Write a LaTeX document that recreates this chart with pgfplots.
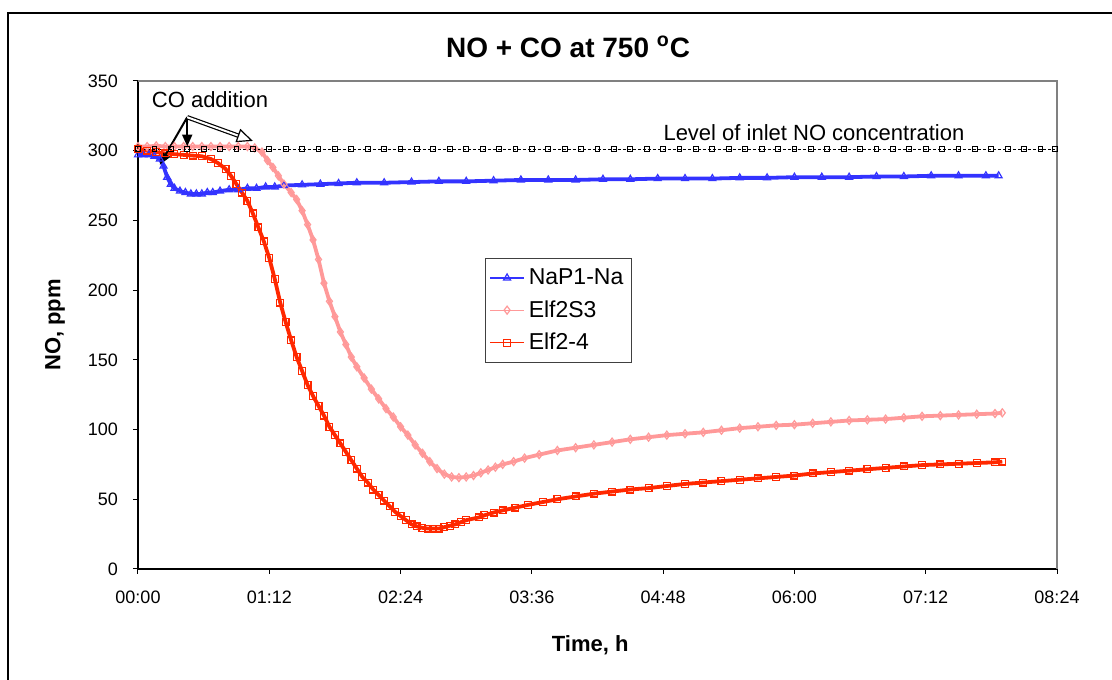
\documentclass[border=0pt]{standalone}
\usepackage{fontspec}
\setmainfont{Liberation Sans}
\usepackage{pgfplots}
\pgfplotsset{compat=1.18}
\usetikzlibrary{calc,arrows.meta}

\definecolor{naBlue}{RGB}{51,51,255}
\definecolor{elfPink}{RGB}{255,153,153}
\definecolor{elfRed}{RGB}{255,40,0}

\begin{document}
\begin{tikzpicture}
\begin{axis}[
  name=ax,
  scale only axis,
  width=459.5pt, height=244pt,
  xmin=0, xmax=504, ymin=0, ymax=350,
  xtick={0,72,...,504},
  xticklabels={00:00,01:12,02:24,03:36,04:48,06:00,07:12,08:24},
  ytick={0,50,...,350},
  axis x line*=bottom, axis y line*=left,
  axis line style={black, line width=0.7pt, -},
  tick align=outside, major tick length=2.5pt,
  tick style={black, line width=0.5pt},
  ticklabel style={font=\fontsize{9}{11}\selectfont},
  xticklabel style={yshift=-5pt},
  yticklabel style={xshift=-4pt},
  /pgf/number format/assume math mode=true,
  clip=false,
  legend image code/.code={
    \draw[mark repeat=2, mark phase=2, line width=0.6pt]
      plot coordinates {(0cm,0cm) (0.3cm,0cm) (0.6cm,0cm)};},
  legend cell align=left,
  legend style={at={(rel axis cs:0.3776,0.637)}, anchor=north west,
    draw=black!75, font=\fontsize{11.5}{13}\selectfont,
    inner xsep=2pt, inner ysep=3pt, row sep=2.5pt},
]
% plot area border, top and right
\draw[gray, line width=0.6pt] (rel axis cs:0,1) -- (rel axis cs:1,1) -- (rel axis cs:1,0);

% NaP1-Na
\addplot[naBlue, line width=1.9pt, mark=triangle, mark size=2pt,
  mark options={line width=0.6pt}] coordinates {
 (0,297) (3,297) (6,297) (9,296) (12,294) (14,289) (16,281) (18,276) (20,273)
 (23,271) (26,270) (29,269) (32,269) (35,269) (38,270) (41,270) (45,271)
 (50,272) (55,272) (60,273) (65,273) (70,274) (75,274) (80,275) (90,275.5)
 (100,276) (110,276.5) (120,277) (135,277) (150,277.5) (165,278) (180,278)
 (195,278.5) (210,279) (225,279) (240,279) (255,279.5) (270,279.5) (285,280)
 (300,280) (315,280) (330,280.5) (345,280.5) (360,281) (375,281) (390,281)
 (405,281.5) (420,281.5) (435,282) (450,282) (465,282) (472,282)
};
\addlegendentry{NaP1-Na}

% Elf2S3
\addplot[elfPink, line width=1.9pt, mark=diamond, mark size=2pt,
  mark options={line width=0.6pt}] coordinates {
 (0,303) (5,303) (10,303.5) (15,303) (20,303) (25,303) (30,303) (35,303)
 (40,303) (45,303) (50,303) (55,303) (60,303) (64,302) (68,299) (71,293)
 (74,288) (77,282) (80,276) (84,270) (87,265) (90,257) (93,247) (96,236)
 (99,222) (102,205) (105,192) (108,181) (111,170) (114,161) (117,152)
 (120,145) (124,137) (128,129) (132,122) (136,115) (140,109) (144,102)
 (148,96) (152,89) (156,83) (160,77) (164,72) (168,68) (172,66) (176,65.5)
 (180,66) (184,67) (188,69) (192,71) (196,73) (200,75) (206,77) (212,79.5)
 (220,82) (230,85) (240,87) (250,89) (260,91) (270,93) (280,94.5) (290,96)
 (300,97) (310,98) (320,99.5) (330,101) (340,102) (350,103) (360,103.5)
 (370,104.5) (380,105.5) (390,106.5) (400,107) (410,107.5) (420,108.5)
 (430,109.5) (440,110) (450,110.5) (460,111) (470,111.5) (474,112)
};
\addlegendentry{Elf2S3}

% Elf2-4
\addplot[elfRed, line width=1.9pt, mark=square, mark size=1.7pt,
  mark options={line width=0.6pt}] coordinates {
 (0,301) (5,300) (10,299) (15,298) (20,297.5) (25,297) (30,296.5) (35,296)
 (40,294) (44,291) (48,287) (51,282) (54,276) (57,270) (60,264) (63,255)
 (66,245) (69,235) (72,223) (75,208) (78,191) (81,177) (84,164) (87,152)
 (90,142) (93,132) (96,124) (99,117) (102,110) (105,102) (108,96) (111,90)
 (114,84) (117,78) (120,72) (123,66) (126,62) (129,57) (132,53) (135,49)
 (138,45) (141,41) (144,38) (147,35) (150,32) (153,30.5) (156,29.5) (159,29)
 (162,29) (165,29) (168,30) (171,31) (174,32) (177,33.5) (180,35) (187,37)
 (190,38.5) (195,40.5) (200,42) (207,44) (214,46) (222,48) (230,50) (240,52)
 (250,54) (260,55.5) (270,57) (280,58) (290,59.5) (300,61) (310,62) (320,63)
 (330,64) (340,65) (350,66) (360,67) (370,68.5) (380,69.5) (390,70.5)
 (400,71.5) (410,72.5) (420,73.5) (430,74.5) (440,75) (450,75.5) (460,76)
 (470,76.5) (474,77)
};
\addlegendentry{Elf2-4}

% inlet NO level
\addplot[black, line width=0.5pt, dash pattern=on 1.5pt off 1pt, mark=square,
  mark size=1.2pt, mark options={solid}, forget plot] coordinates {
 (0,301) (9,301) (18,301) (27,301) (36,301) (45,301) (54,301) (63,301)
 (72,301) (81,301) (90,301) (99,301) (108,301) (117,301) (126,301) (135,301)
 (144,301) (153,301) (162,301) (171,301) (180,301) (189,301) (198,301)
 (207,301) (216,301) (225,301) (234,301) (243,301) (252,301) (261,301)
 (270,301) (279,301) (288,301) (297,301) (306,301) (315,301) (324,301)
 (333,301) (342,301) (351,301) (360,301) (369,301) (378,301) (387,301)
 (396,301) (405,301) (414,301) (423,301) (432,301) (441,301) (450,301)
 (459,301) (468,301) (477,301) (486,301) (495,301) (503,301)
};

% annotations
\node[font=\fontsize{11}{13}\selectfont] at (axis cs:370.7,312.8) {Level of inlet NO concentration};
\node[font=\fontsize{11}{13}\selectfont] at (axis cs:39.5,336.4) {CO addition};
\draw[line width=1pt, -{Triangle[length=6pt,width=5pt]}] (axis cs:27,324) -- (axis cs:12,290);
\draw[line width=1pt, -{Triangle[length=6pt,width=5pt]}] (axis cs:27,324) -- (axis cs:27,303);
\draw[line width=0.6pt, double, double distance=1pt,
  -{Triangle[open,length=8pt,width=7pt]}] (axis cs:27,324) -- (axis cs:63,307);

% titles
\node[font=\bfseries\fontsize{14}{16}\selectfont] at (rel axis cs:0.468,1.07) {NO + CO at 750 \textsuperscript{o}C};
\node[font=\bfseries\fontsize{11}{13}\selectfont] at (rel axis cs:0.492,-0.156) {Time, h};
\node[font=\bfseries\fontsize{11}{13}\selectfont, rotate=90] at (rel axis cs:-0.0903,0.5) {NO, ppm};
\end{axis}
\draw[line width=0.7pt] ($(ax.south west)+(-65pt,-80pt)$) |- ($(ax.north east)+(80pt,34pt)$);
\pgfresetboundingbox
\useasboundingbox ($(ax.south west)+(-69pt,-55.5pt)$) rectangle ($(ax.north east)+(27.5pt,40.5pt)$);
\end{tikzpicture}
\end{document}
